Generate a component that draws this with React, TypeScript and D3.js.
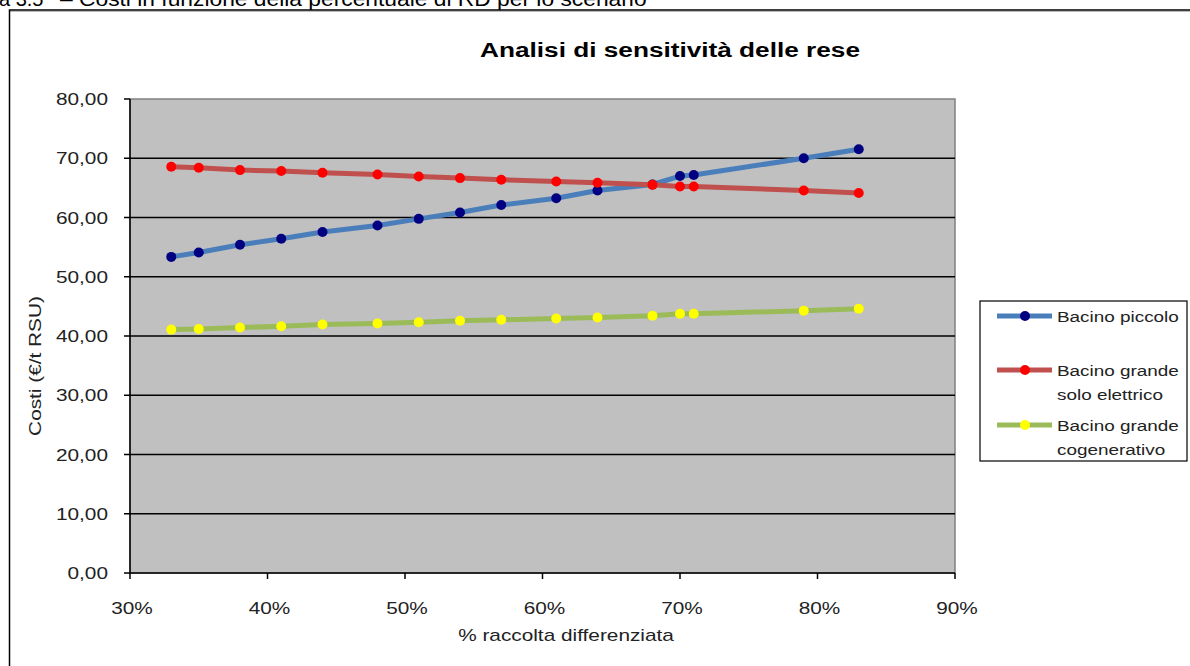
import React from "react";
import * as d3 from "d3";

const W = 1190;
const H = 666;

const pctRD = [33, 35, 38, 41, 44, 48, 51, 54, 57, 61, 64, 68, 70, 71, 79, 83];
const bacinoPiccolo = [53.35, 54.09, 55.4, 56.42, 57.56, 58.64, 59.77, 60.85, 62.1, 63.24, 64.55, 65.57, 66.99, 67.16, 70.0, 71.53];
const bacinoGrandeElettrico = [68.58, 68.41, 68.0, 67.84, 67.56, 67.27, 66.93, 66.65, 66.36, 66.08, 65.85, 65.51, 65.23, 65.23, 64.55, 64.15];
const bacinoGrandeCogenerativo = [41.08, 41.19, 41.42, 41.65, 41.93, 42.1, 42.33, 42.56, 42.73, 42.95, 43.13, 43.41, 43.75, 43.75, 44.26, 44.6];

const xTicks = [30, 40, 50, 60, 70, 80, 90];
const yTicks = [0, 10, 20, 30, 40, 50, 60, 70, 80];

const seriesNames = [["Bacino piccolo"], ["Bacino grande", "solo elettrico"], ["Bacino grande", "cogenerativo"]];
const lineColors = ["#4a7ebb", "#c0504d", "#9bbb59"];
const markerColors = ["#000080", "#ff0000", "#ffff00"];

const FONT = "'Liberation Sans', Arial, sans-serif";

function T(props: {
  x: number; y: number; sx?: number; size: number; anchor?: string; weight?: string;
  rotate?: number; fill?: string; children: React.ReactNode;
}) {
  const { x, y, sx = 1.3, size, anchor = "start", weight = "normal", rotate = 0, fill = "#222", children } = props;
  return (
    <text
      transform={`translate(${x},${y}) rotate(${rotate}) scale(${sx},1)`}
      fontSize={size}
      fontFamily={FONT}
      fontWeight={weight}
      textAnchor={anchor}
      fill={fill}
    >
      {children}
    </text>
  );
}

export default function App() {
  const x = d3.scaleLinear().domain([30, 90]).range([130, 955]);
  const y = d3.scaleLinear().domain([0, 80]).range([573, 99]);
  const series = [bacinoPiccolo, bacinoGrandeElettrico, bacinoGrandeCogenerativo];
  const line = d3
    .line<number>()
    .x((_, i) => x(pctRD[i]))
    .y((d) => y(d));

  const fmt = (v: number) => d3.format(".2f")(v).replace(".", ",");

  const legendX = 980;
  const legendY = 301;
  const legendRows = [316, 370, 425];

  return (
    <svg
      width={W}
      height={H}
      style={{ position: "absolute", left: 0, top: 0, background: "#fff" }}
    >
      <rect x={0} y={0} width={W} height={H} fill="#fff" />
      {/* clipped caption */}
      <T x={-1} y={6} size={20} sx={1.0} fill="#000">
        a 3.5
      </T>
      <T x={60} y={6} size={20} sx={1.14} fill="#000">
        – Costi in funzione della percentuale di RD per lo scenario
      </T>
      {/* outer frame */}
      <line x1={10} y1={11.5} x2={W} y2={11.5} stroke="#bbb" strokeWidth={1} />
      <rect x={9.5} y={10} width={W + 20} height={H + 20} fill="none" stroke="#000" strokeWidth={1.5} />

      {/* title */}
      <T x={670} y={57} size={20} sx={1.31} weight="bold" anchor="middle" fill="#000">
        Analisi di sensitività delle rese
      </T>

      {/* plot area */}
      <rect x={x(30)} y={y(80)} width={x(90) - x(30)} height={y(0) - y(80)} fill="#c0c0c0" stroke="#808080" strokeWidth={1.5} />
      {yTicks.filter((t) => t > 0 && t < 80).map((t) => (
        <line key={t} x1={x(30)} x2={x(90)} y1={y(t)} y2={y(t)} stroke="#000" strokeWidth={1.5} />
      ))}

      {/* axes */}
      <line x1={x(30)} x2={x(30)} y1={y(80)} y2={y(0)} stroke="#000" strokeWidth={1.5} />
      <line x1={x(30)} x2={x(90)} y1={y(0)} y2={y(0)} stroke="#000" strokeWidth={1.5} />
      {yTicks.map((t) => (
        <g key={t}>
          <line x1={x(30) - 6} x2={x(30)} y1={y(t)} y2={y(t)} stroke="#000" strokeWidth={1.5} />
          <T x={108} y={y(t) + 6} size={16} sx={1.3} anchor="end">
            {fmt(t)}
          </T>
        </g>
      ))}
      {xTicks.map((t) => (
        <g key={t}>
          <line x1={x(t)} x2={x(t)} y1={y(0)} y2={y(0) + 6} stroke="#000" strokeWidth={1.5} />
          <T x={x(t) + 2} y={614} size={16} sx={1.3} anchor="middle">
            {`${t}%`}
          </T>
        </g>
      ))}
      <T x={566} y={641} size={16} sx={1.3} anchor="middle">
        % raccolta differenziata
      </T>
      <T x={41} y={366} size={16} sx={1.3} anchor="middle" rotate={-90}>
        Costi (€/t RSU)
      </T>

      {/* series */}
      {series.map((s, si) => (
        <g key={si}>
          <path d={line(s) || ""} fill="none" stroke={lineColors[si]} strokeWidth={5} strokeLinejoin="round" />
          {s.map((v, i) => (
            <circle key={i} cx={x(pctRD[i])} cy={y(v)} r={5} fill={markerColors[si]} />
          ))}
        </g>
      ))}

      {/* legend */}
      <rect x={legendX} y={legendY} width={207} height={160} fill="#fff" stroke="#000" strokeWidth={1.2} />
      {seriesNames.map((name, si) => (
        <g key={si}>
          <line x1={997} x2={1052} y1={legendRows[si]} y2={legendRows[si]} stroke={lineColors[si]} strokeWidth={5} />
          <circle cx={1025} cy={legendRows[si]} r={5} fill={markerColors[si]} />
          {name.map((ln, li) => (
            <T key={li} x={1057} y={legendRows[si] + 6 + li * 24} size={15.5} sx={1.22}>
              {ln}
            </T>
          ))}
        </g>
      ))}
    </svg>
  );
}
